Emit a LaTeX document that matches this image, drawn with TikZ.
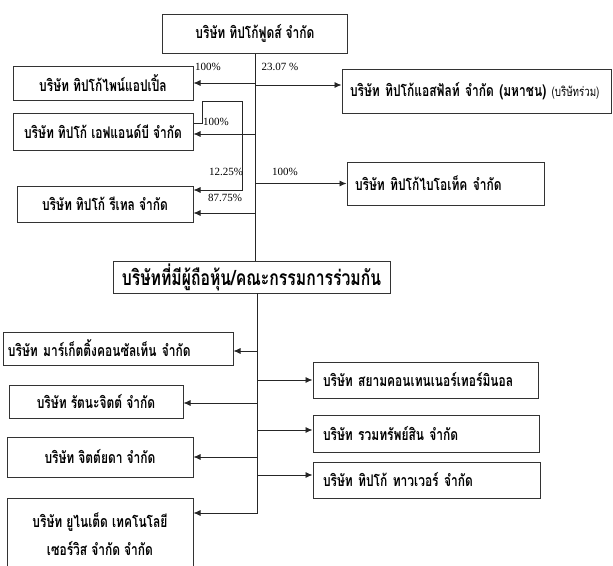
\documentclass[tikz,border=0pt]{standalone}
\usepackage{fontspec}
\setmainfont{Liberation Serif}
\newfontfamily\thaifont[Script=Thai,FakeStretch=0.75]{Loma}
\usetikzlibrary{arrows.meta}

\begin{document}
\begin{tikzpicture}[x=1pt, y=-1pt,
		box/.style={rectangle, draw=black!80, line width=1pt, inner sep=0pt, text centered, font=\thaifont\bfseries\fontsize{16}{18}\selectfont},
		lbox/.style={box, align=left},
		link/.style={draw=black!85, line width=0.8pt},
		arr/.style={link, -{Latex[length=7pt,width=6pt]}},
		pct/.style={inner sep=0pt, font=\fontsize{11}{12}\selectfont}]
		
		\useasboundingbox (0,0) rectangle (613,565);
		
		%Parent company
		\node (food) at (255,33.5) [box, minimum width=185, minimum height=39]{บริษัท  ทิปโก้ฟูดส์ จำกัด};
		
		%Left side
		\node (pine) at (103,83) [box, minimum width=180, minimum height=34]{บริษัท ทิปโก้ไพน์แอปเปิ้ล};
		\node (fnb) at (103,131.5) [box, minimum width=180, minimum height=37]{บริษัท ทิปโก้ เอฟแอนด์บี จำกัด};
		\node (retail) at (105,204) [box, minimum width=176, minimum height=36]{บริษัท ทิปโก้ รีเทล จำกัด};
		
		%Right side
		\node (alsoft) at (476.5,91) [lbox, text width=253, inner xsep=8, minimum height=44]{บริษัท ทิปโก้แอสฟัลท์ จำกัด (มหาชน) {\mdseries\fontsize{13}{14}\selectfont(บริษัทร่วม)}};
		\node (bio) at (445.5,183.5) [lbox, text width=181, inner xsep=8, minimum height=43]{บริษัท ทิปโก้ไบโอเท็ค จำกัด};
		
		%Joint box
		\node (joint) at (251.5,277) [box, minimum width=277, minimum height=32, font=\thaifont\bfseries\fontsize{21}{24}\selectfont]{บริษัทที่มีผู้ถือหุ้น/คณะกรรมการร่วมกัน};
		
		%Lower left
		\node (mkt) at (118,348.5) [lbox, text width=220, inner xsep=5, minimum height=33]{บริษัท  มาร์เก็ตติ้งคอนซัลเท็น จำกัด};
		\node (rattana) at (96,401.5) [box, minimum width=174, minimum height=33]{บริษัท รัตนะจิตต์ จำกัด};
		\node (jit) at (100,457) [box, minimum width=186, minimum height=40]{บริษัท จิตต์ยดา จำกัด};
		\node (united) at (100,534) [box, minimum width=186, minimum height=72, align=center, font=\thaifont\bfseries\fontsize{16}{28}\selectfont]{บริษัท ยูไนเต็ด เทคโนโลยี\\เซอร์วิส จำกัด จำกัด};
		
		%Lower right
		\node (siam) at (425.5,380) [lbox, text width=205, inner xsep=10, minimum height=36]{บริษัท สยามคอนเทนเนอร์เทอร์มินอล};
		\node (ruam) at (426,433.5) [lbox, text width=206, inner xsep=10, minimum height=37]{บริษัท รวมทรัพย์สิน จำกัด};
		\node (tower) at (426.5,480) [lbox, text width=207, inner xsep=10, minimum height=36]{บริษัท ทิปโก้ ทาวเวอร์ จำกัด};
		
		%Upper trunk
		\draw[link] (food.south) -- (food.south |- joint.north);
		\draw[arr] (food.south |- pine.east) -- (pine.east);
		\draw[arr] (food.south |- alsoft.west) ++(0,-6) -- ([yshift=6]alsoft.west);
		\draw[arr] (food.south |- fnb.east) ++(0,2.5) -- ([yshift=-2.5]fnb.east);
		\draw[arr] (food.south |- bio.west) -- (bio.west);
		\draw[arr] (food.south |- retail.east) ++(0,9) -- ([yshift=-9]retail.east);
		\draw[arr] ([yshift=8.5]fnb.east) -- ++(9,0) -- ++(0,-22) -- ++(40,0) |- ([yshift=14]retail.east);
		
		%Lower trunk
		\coordinate (lowTop) at (257,293);
		\draw[arr] (lowTop) |- ([yshift=21]united.east);
		\draw[arr] (lowTop |- mkt.east) ++(0,2.5) -- ([yshift=-2.5]mkt.east);
		\draw[arr] (lowTop |- rattana.east) ++(0,1.5) -- ([yshift=-1.5]rattana.east);
		\draw[arr] (lowTop |- jit.east) -- (jit.east);
		\draw[arr] (lowTop |- siam.west) -- (siam.west);
		\draw[arr] (lowTop |- ruam.west) ++(0,-3.5) -- ([yshift=3.5]ruam.west);
		\draw[arr] (lowTop |- tower.west) ++(0,-5) -- ([yshift=5]tower.west);
		
		%Shares
		\node (pPine) at (208,67) [pct]{100\%};
		\node (pAlsoft) at (280,67) [pct]{23.07 \%};
		\node (pFnb) at (216,122) [pct]{100\%};
		\node (pRetA) at (226,172) [pct]{12.25\%};
		\node (pRetB) at (225,198) [pct]{87.75\%};
		\node (pBio) at (285,172) [pct]{100\%};
		
	\end{tikzpicture}
\end{document}
